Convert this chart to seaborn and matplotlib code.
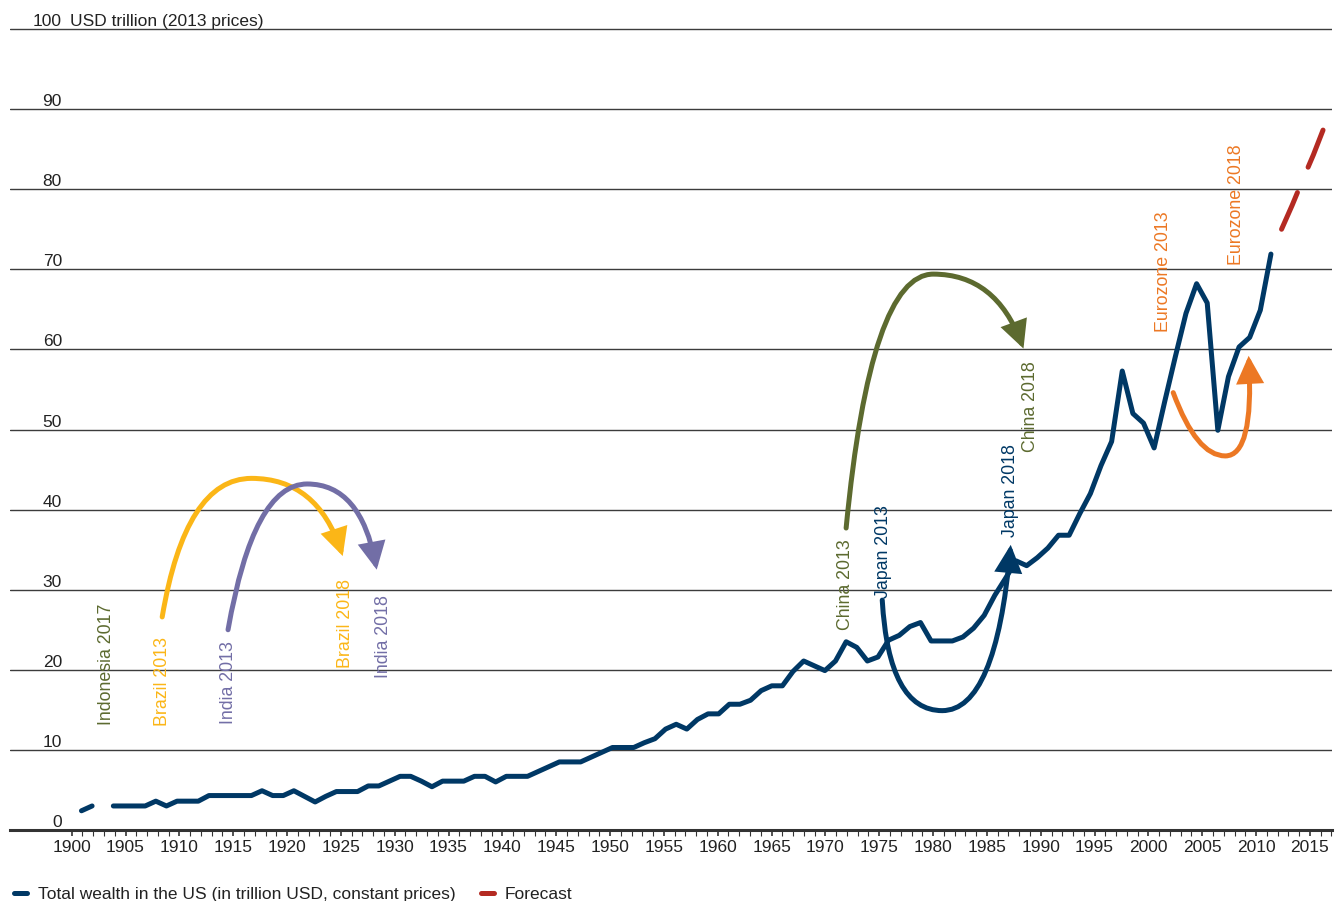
#!/usr/bin/env python3
# Total wealth in the US since 1900, with forecast and country comparisons

import numpy as np
import pandas as pd
import matplotlib
matplotlib.use('Agg')
import matplotlib.pyplot as plt
import matplotlib.transforms as mtransforms
from matplotlib.lines import Line2D
from matplotlib.patches import FancyArrowPatch
from matplotlib.path import Path
import seaborn as sns

# Data =========================================================================

years = list(range(1900, 2013))
wealth = [
    2.4, 3.0, np.nan, 3.0, 3.0, 3.0, 3.0, 3.6, 3.0, 3.6,
    3.6, 3.6, 4.3, 4.3, 4.3, 4.3, 4.3, 4.9, 4.3, 4.3,
    4.9, 4.2, 3.5, 4.2, 4.8, 4.8, 4.8, 5.5, 5.5, 6.1,
    6.7, 6.7, 6.1, 5.4, 6.1, 6.1, 6.1, 6.7, 6.7, 6.0,
    6.7, 6.7, 6.7, 7.3, 7.9, 8.5, 8.5, 8.5, 9.1, 9.7,
    10.3, 10.3, 10.3, 10.9, 11.4, 12.6, 13.2, 12.6, 13.8, 14.5,
    14.5, 15.7, 15.7, 16.2, 17.4, 18.0, 18.0, 19.8, 21.1, 20.5,
    19.9, 21.1, 23.5, 22.8, 21.1, 21.6, 23.7, 24.3, 25.4, 25.9,
    23.6, 23.6, 23.6, 24.1, 25.2, 26.8, 29.3, 31.4, 33.6, 33.0,
    34.0, 35.2, 36.8, 36.8, 39.5, 42.0, 45.5, 48.5, 57.3, 52.0,
    50.8, 47.7, 53.5, 59.1, 64.5, 68.2, 65.8, 49.9, 56.6, 60.3,
    61.5, 64.9, 71.9,
]
forecast_years = [2013, 2014, 2015, 2016, 2017]
forecast = [75.0, 78.0, 81.2, 84.3, 87.7]

y_ticks = list(range(0, 101, 10))
x_labels = list(range(1900, 2016, 5))
legend_labels = [
    'Total wealth in the US (in trillion USD, constant prices)',
    'Forecast',
]

# Annotations ==================================================================

NAVY = '#003865'
RED = '#b42a22'
OLIVE = '#5c6a2f'
YELLOW = '#fbb617'
PURPLE = '#726ea6'
ORANGE = '#ec7824'
TEXT = '#222222'

# (label, x, y, colour) -- rotated labels, anchored at their bottom
notes = [
    ('Indonesia 2017', 1902.4, 13.1, OLIVE),
    ('Brazil 2013', 1907.6, 13.0, YELLOW),
    ('India 2013', 1913.8, 13.2, PURPLE),
    ('Brazil 2018', 1924.9, 20.2, YELLOW),
    ('India 2018', 1928.4, 19.0, PURPLE),
    ('China 2013', 1971.9, 25.0, OLIVE),
    ('Japan 2013', 1975.5, 29.0, NAVY),
    ('Japan 2018', 1987.5, 36.6, NAVY),
    ('China 2018', 1989.4, 47.2, OLIVE),
    ('Eurozone 2013', 2001.9, 62.2, ORANGE),
    ('Eurozone 2018', 2008.8, 70.5, ORANGE),
]

# start, two control points, arrow tip
arrows = [
    ([(1907.6, 26.6), (1909.8, 43.9), (1922.2, 43.9), (1924.6, 34.2)], YELLOW),
    ([(1913.8, 25.0), (1916.2, 43.2), (1926.3, 43.2), (1927.8, 32.5)], PURPLE),
    ([(1972.0, 37.7), (1974.3, 69.4), (1986.1, 69.4), (1988.7, 60.1)], OLIVE),
    ([(1975.4, 28.7), (1976.0, 14.9), (1986.1, 14.9), (1987.5, 35.6)], NAVY),
    ([(2002.8, 54.6), (2005.0, 46.7), (2010.4, 46.7), (2009.9, 59.2)], ORANGE),
]


def arc_path(pts):
    mid = ((pts[1][0] + pts[2][0]) / 2, (pts[1][1] + pts[2][1]) / 2)
    return Path(
        [pts[0], pts[1], mid, pts[2], pts[3]],
        [Path.MOVETO, Path.CURVE3, Path.CURVE3, Path.CURVE3, Path.CURVE3]
    )


# Plot =========================================================================

sns.set_theme(style='white')
plt.rcParams['font.family'] = ['Liberation Sans', 'DejaVu Sans']

fig = plt.figure(figsize=(13.38, 9.01), dpi=100)
ax = fig.add_axes([10 / 1338, 71 / 901, 1322 / 1338, 805 / 901])

hist = pd.DataFrame({'year': years, 'wealth': wealth})
hist['run'] = hist['wealth'].isna().cumsum()
fc = pd.DataFrame({'year': forecast_years, 'wealth': forecast})

sns.lineplot(data=hist, x='year', y='wealth', units='run', estimator=None,
             color=NAVY, lw=3.6, solid_capstyle='round',
             solid_joinstyle='round', ax=ax, legend=False, zorder=3)
sns.lineplot(data=fc, x='year', y='wealth', color=RED, lw=3.6,
             linestyle=(0, (8.0, 5.5)), dash_capstyle='round',
             ax=ax, legend=False, zorder=3)

ax.set_xlim(1893.27, 2017.75)
ax.set_ylim(0, 100.5)
ax.set_xticks([])
ax.set_xlabel('')
ax.set_ylabel('')
ax.set_yticks(y_ticks)
ax.set_yticklabels([str(v) for v in y_ticks])
ax.tick_params(axis='y', left=False, length=0, pad=-37.4,
               labelsize=12.5, labelcolor=TEXT)
for lab in ax.get_yticklabels():
    lab.set_verticalalignment('bottom')
ax.yaxis.grid(True, color='#3c3c3c', lw=1.0)
ax.xaxis.grid(False)
for side in ('top', 'left', 'right'):
    ax.spines[side].set_visible(False)
ax.spines['bottom'].set_color('#333333')
ax.spines['bottom'].set_linewidth(2.2)

trans = mtransforms.blended_transform_factory(ax.transAxes, ax.transData)
ax.text(60 / 1322, 100, 'USD trillion (2013 prices)', transform=trans,
        ha='left', va='bottom', fontsize=12.5, color=TEXT)

# year ticks on their own scale below the plot
tx = ax.twiny()
tx.set_xlim(1894.27, 2017.05)
tx.set_xticks(x_labels)
tx.set_xticklabels([str(v) for v in x_labels])
tx.set_xticks(range(1900, 2018), minor=True)
tx.tick_params(axis='x', which='both', bottom=True, top=False,
               labelbottom=True, labeltop=False, direction='out',
               color='#333333')
tx.tick_params(axis='x', which='major', length=4.3, width=1.2,
               labelsize=12.5, labelcolor=TEXT, pad=2.7)
tx.tick_params(axis='x', which='minor', length=4.3, width=0.8)
for s in tx.spines.values():
    s.set_visible(False)
tx.grid(False)

for pts, color in arrows:
    ax.add_patch(FancyArrowPatch(path=arc_path(pts), arrowstyle='-|>',
                                 mutation_scale=36, lw=3.6, color=color,
                                 joinstyle='miter', capstyle='round',
                                 zorder=4))

for label, x, y, color in notes:
    ax.text(x, y, label, rotation=90, ha='center', va='bottom',
            fontsize=12.8, color=color, zorder=5)

handles = [
    Line2D([], [], color=NAVY, lw=3.6, solid_capstyle='round'),
    Line2D([], [], color=RED, lw=3.6, solid_capstyle='round'),
]
leg = fig.legend(handles, legend_labels, loc='center left',
                 bbox_to_anchor=(14 / 1338, 1 - 894 / 901), ncol=2,
                 frameon=False, handlelength=0.76, handletextpad=0.6,
                 columnspacing=1.5, borderpad=0, borderaxespad=0,
                 fontsize=12.5)
for t in leg.get_texts():
    t.set_color(TEXT)

fig.savefig('out.png', dpi=100)
